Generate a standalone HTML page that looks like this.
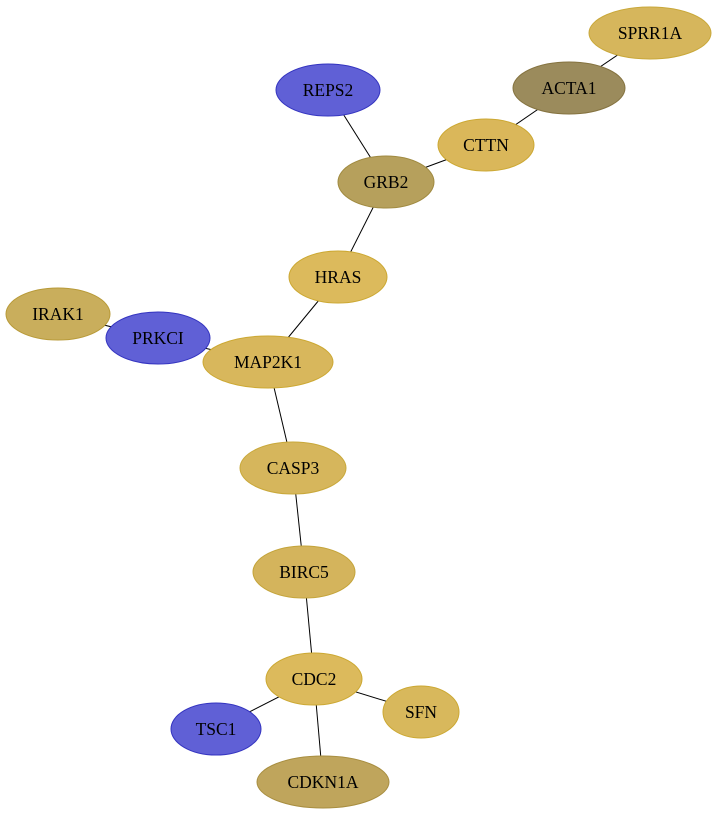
<!DOCTYPE html>
<html><head><style>body{margin:0;background:#fff}</style></head><body>
<svg width="719" height="817" xmlns="http://www.w3.org/2000/svg" font-family="Liberation Serif, serif" font-size="17.5">
<g stroke="#000" stroke-width="1">
<line x1="650" y1="33" x2="569" y2="88"/>
<line x1="569" y1="88" x2="486" y2="145"/>
<line x1="328" y1="90" x2="386" y2="182"/>
<line x1="486" y1="145" x2="386" y2="182"/>
<line x1="386" y1="182" x2="338" y2="277"/>
<line x1="338" y1="277" x2="268" y2="362"/>
<line x1="58" y1="314" x2="158" y2="338"/>
<line x1="158" y1="338" x2="268" y2="362"/>
<line x1="268" y1="362" x2="293" y2="468"/>
<line x1="293" y1="468" x2="304" y2="572"/>
<line x1="304" y1="572" x2="314" y2="679"/>
<line x1="314" y1="679" x2="421" y2="712"/>
<line x1="314" y1="679" x2="216" y2="729"/>
<line x1="314" y1="679" x2="323" y2="782"/>
</g>
<g text-anchor="middle">
<ellipse cx="650" cy="33" rx="61" ry="26" fill="#d6b65c" stroke="#c9a83a"/><text x="650" y="39">SPRR1A</text>
<ellipse cx="569" cy="88" rx="56" ry="26" fill="#9b8b5c" stroke="#857340"/><text x="569" y="94">ACTA1</text>
<ellipse cx="328" cy="90" rx="52" ry="26" fill="#6060d6" stroke="#3434c0"/><text x="328" y="96">REPS2</text>
<ellipse cx="486" cy="145" rx="48" ry="26" fill="#dab75a" stroke="#cca832"/><text x="486" y="151">CTTN</text>
<ellipse cx="386" cy="182" rx="48" ry="26" fill="#b6a05c" stroke="#a08a40"/><text x="386" y="188">GRB2</text>
<ellipse cx="338" cy="277" rx="49" ry="26" fill="#dcba5c" stroke="#cca832"/><text x="338" y="283">HRAS</text>
<ellipse cx="58" cy="314" rx="52" ry="26" fill="#c9ae5c" stroke="#b89a38"/><text x="58" y="320">IRAK1</text>
<ellipse cx="158" cy="338" rx="52" ry="26" fill="#6060d6" stroke="#3434c0"/><text x="158" y="344">PRKCI</text>
<ellipse cx="268" cy="362" rx="65" ry="26" fill="#d8b75c" stroke="#cca832"/><text x="268" y="368">MAP2K1</text>
<ellipse cx="293" cy="468" rx="53" ry="26" fill="#d6b65c" stroke="#c9a83a"/><text x="293" y="474">CASP3</text>
<ellipse cx="304" cy="572" rx="51" ry="26" fill="#d4b45c" stroke="#c4a43a"/><text x="304" y="578">BIRC5</text>
<ellipse cx="314" cy="679" rx="48" ry="26" fill="#dcba5c" stroke="#cca832"/><text x="314" y="685">CDC2</text>
<ellipse cx="421" cy="712" rx="38" ry="26" fill="#d8b85c" stroke="#cca832"/><text x="421" y="718">SFN</text>
<ellipse cx="216" cy="729" rx="45" ry="26" fill="#6060d6" stroke="#3434c0"/><text x="216" y="735">TSC1</text>
<ellipse cx="323" cy="782" rx="66" ry="26" fill="#bfa55c" stroke="#a88e40"/><text x="323" y="788">CDKN1A</text>
</g>
</svg>
</body></html>
